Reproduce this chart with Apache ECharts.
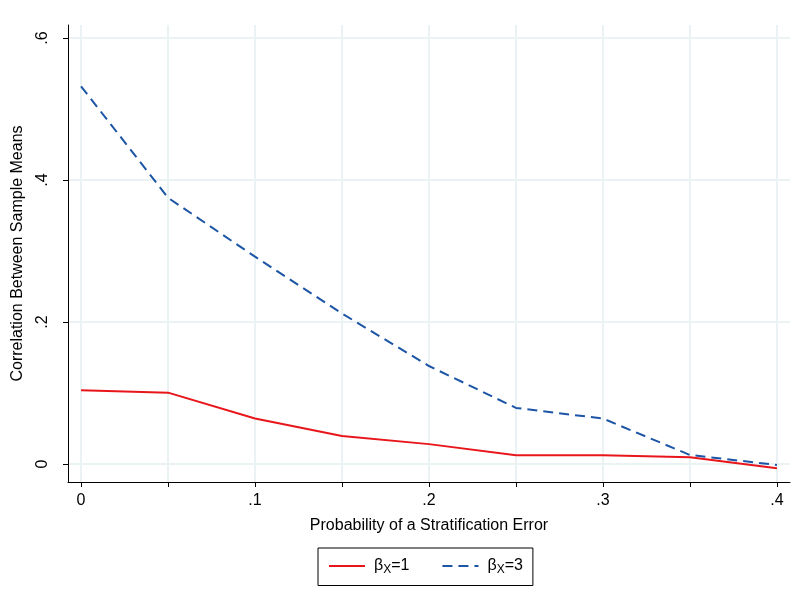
<!DOCTYPE html>
<html><head><meta charset="utf-8">
<script src="https://cdn.jsdelivr.net/npm/echarts@6/dist/echarts.min.js"></script>
<style>html,body{margin:0;padding:0;background:#fff}#c{width:800px;height:598px}</style>
</head><body><div id="c"></div>
<script>
const xValues = [0, 0.05, 0.1, 0.15, 0.2, 0.25, 0.3, 0.35, 0.4];
const beta1 = [0.104, 0.1005, 0.064, 0.0394, 0.028, 0.0122, 0.0122, 0.0094, -0.006];
const beta3 = [0.532, 0.375, 0.292, 0.212, 0.138, 0.079, 0.064, 0.0127, -0.0014];
const xTickValues = [0, 0.05, 0.1, 0.15, 0.2, 0.25, 0.3, 0.35, 0.4];
const xLabelValues = [0, 0.1, 0.2, 0.3, 0.4];
const yTickValues = [0, 0.2, 0.4, 0.6];
const seriesNames = ['β1', 'β3'];

const fmt = v => { const s = (+v.toFixed(2)).toString(); return s === '0' ? '0' : s.replace(/^0/, '').replace(/^-0/, '-'); };
const font = '"Liberation Sans", Arial, sans-serif';
const chart = echarts.init(document.getElementById('c'), null, {renderer: 'canvas'});
chart.setOption({
  backgroundColor: '#fff',
  animation: false,
  grid: {left: 68, right: 10, top: 25, bottom: 116, outerBoundsMode: 'none', containLabel: false},
  xAxis: {
    type: 'value', min: -0.0075, max: 0.4075,
    name: 'Probability of a Stratification Error', nameLocation: 'middle', nameGap: 36,
    nameTextStyle: {fontFamily: font, fontSize: 16, color: '#000'},
    axisLine: {show: true, onZero: false, lineStyle: {color: '#000', width: 1}},
    axisTick: {show: true, length: 5, customValues: xTickValues, lineStyle: {color: '#000'}},
    axisLabel: {customValues: xLabelValues, formatter: fmt, fontFamily: font, fontSize: 16, color: '#000', margin: 11},
    splitLine: {show: true, lineStyle: {color: '#eaf2f3', width: 2}}
  },
  yAxis: {
    type: 'value', min: -0.02535, max: 0.6183,
    name: 'Correlation Between Sample Means', nameLocation: 'middle', nameGap: 42,
    nameTextStyle: {fontFamily: font, fontSize: 16, color: '#000'},
    axisLine: {show: true, onZero: false, lineStyle: {color: '#000', width: 1}},
    axisTick: {show: true, length: 5, customValues: yTickValues, lineStyle: {color: '#000'}},
    axisLabel: {customValues: yTickValues, formatter: fmt, rotate: 90, fontFamily: font, fontSize: 16, color: '#000', margin: 17},
    splitLine: {show: true, lineStyle: {color: '#eaf2f3', width: 2}}
  },
  legend: {
    left: 318, top: 548, width: 220,
    padding: [10, 10, 10, 10],
    borderColor: '#000', borderWidth: 1,
    itemWidth: 36, itemHeight: 16, itemGap: 32,
    itemStyle: {opacity: 0},
    data: seriesNames,
    formatter: n => n === 'β1' ? '{t|β}{s|X}{t|=1}' : '{t|β}{s|X}{t|=3}',
    textStyle: {fontFamily: font, fontSize: 16, color: '#000', padding: [0, 0, 0, 4],
      rich: {t: {fontFamily: font, fontSize: 16, color: '#000'}, s: {fontFamily: font, fontSize: 12, color: '#000', verticalAlign: 'bottom', padding: [7, 0, 0, 0]}}}
  },
  series: [
    {name: seriesNames[0], type: 'line', data: xValues.map((x, i) => [x, beta1[i]]), symbol: 'none',
     lineStyle: {color: '#e8161b', width: 2}, itemStyle: {color: '#e8161b'}},
    {name: seriesNames[1], type: 'line', data: xValues.map((x, i) => [x, beta3[i]]), symbol: 'none',
     lineStyle: {color: '#1c55a5', width: 2, type: [10, 6]}, itemStyle: {color: '#1c55a5'}}
  ]
});
</script></body></html>
